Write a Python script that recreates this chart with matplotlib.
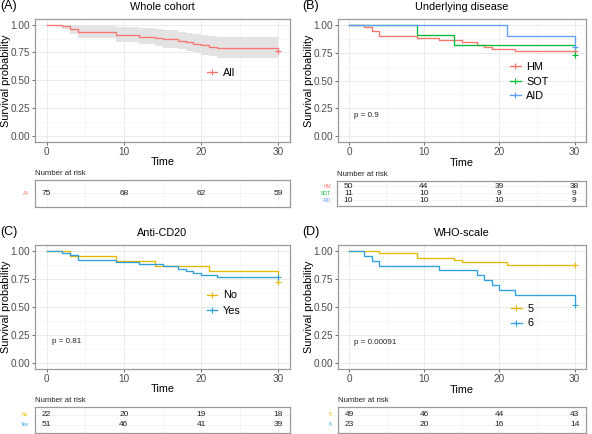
import matplotlib
matplotlib.use("Agg")
import matplotlib.pyplot as plt
from matplotlib.lines import Line2D

plt.rcParams['font.family'] = ['Liberation Sans', 'DejaVu Sans']

# ---------------- data ----------------
# Panel A: whole cohort
a_times = [0, 2, 3, 4, 9, 12, 14, 15, 17, 18, 19, 20, 21, 22, 30]
a_surv = [1.0, 0.987, 0.96, 0.933, 0.907, 0.893, 0.88, 0.867, 0.853, 0.84, 0.827, 0.813, 0.80, 0.787, 0.76]
a_lower = [1.0, 0.961, 0.917, 0.879, 0.843, 0.826, 0.809, 0.793, 0.777, 0.761, 0.745, 0.730, 0.714, 0.699, 0.699]
a_upper = [1.0, 1.0, 1.0, 0.992, 0.975, 0.966, 0.957, 0.947, 0.937, 0.927, 0.917, 0.906, 0.896, 0.885, 0.885]
a_risk = {"All": [75, 68, 62, 59]}

# Panel B: underlying disease
b_hm_t = [0, 2, 3, 4, 9, 12, 15, 17, 18, 19, 22, 30]
b_hm_s = [1.0, 0.98, 0.94, 0.90, 0.88, 0.86, 0.84, 0.82, 0.80, 0.78, 0.76, 0.76]
b_sot_t = [0, 9, 14, 30]
b_sot_s = [1.0, 0.909, 0.818, 0.727]
b_aid_t = [0, 21, 30]
b_aid_s = [1.0, 0.9, 0.8]
b_risk = {"HM": [50, 44, 39, 38], "SOT": [11, 10, 9, 9], "AID": [10, 10, 10, 9]}

# Panel C: anti-CD20
c_no_t = [0, 3, 9, 14, 21, 30]
c_no_s = [1.0, 0.955, 0.909, 0.864, 0.818, 0.727]
c_yes_t = [0, 2, 3, 4, 9, 12, 15, 17, 18, 19, 20, 22, 30]
c_yes_s = [1.0, 0.980, 0.961, 0.922, 0.902, 0.882, 0.863, 0.843, 0.824, 0.804, 0.784, 0.765, 0.765]
c_risk = {"No": [22, 20, 19, 18], "Yes": [51, 46, 41, 39]}

# Panel D: WHO-scale
d_5_t = [0, 4, 9, 14, 15, 21, 30]
d_5_s = [1.0, 0.98, 0.939, 0.918, 0.898, 0.878, 0.878]
d_6_t = [0, 2, 3, 4, 12, 17, 18, 19, 20, 22, 30]
d_6_s = [1.0, 0.957, 0.913, 0.870, 0.826, 0.783, 0.739, 0.696, 0.652, 0.609, 0.522]
d_risk = {"5": [49, 46, 44, 43], "6": [23, 20, 16, 14]}

risk_times = [0, 10, 20, 30]
x_ticks = [0, 10, 20, 30]
y_ticks = [0.0, 0.25, 0.5, 0.75, 1.0]
y_ticklabels = ["0.00", "0.25", "0.50", "0.75", "1.00"]

RED, GREEN, BLUE = "#F8766D", "#00BA38", "#619CFF"
YEL, SKY = "#E7B800", "#2E9FDF"

W, H = 592, 434
fig = plt.figure(figsize=(W / 100, H / 100), dpi=100)


def ax_px(x0, y0, x1, y1):
    return fig.add_axes([x0 / W, 1 - y1 / H, (x1 - x0) / W, (y1 - y0) / H])


BORDER = "#9A9A9A"
GRID = "#EBEBEB"
XLIM = (-1.5, 31.5)


def style_plot(ax, width_px):
    ax.set_xlim(*XLIM)
    ax.set_ylim(-0.05, 1.05)
    ax.set_xticks(x_ticks)
    ax.set_xticks([5, 15, 25], minor=True)
    ax.set_yticks(y_ticks)
    ax.set_yticklabels(y_ticklabels)
    ax.set_yticks([0.125, 0.375, 0.625, 0.875], minor=True)
    ax.grid(True, which='major', color=GRID, lw=0.7)
    ax.grid(True, which='minor', color="#F3F3F3", lw=0.5)
    ax.set_axisbelow(True)
    for s in ax.spines.values():
        s.set_color(BORDER)
        s.set_linewidth(0.9)
    ax.tick_params(which='major', length=2, width=0.6, color="#555555",
                   labelsize=7.2, labelcolor="#4D4D4D", pad=1.5)
    ax.tick_params(which='minor', length=0)
    ax.set_xlabel("Time", fontsize=7.8, labelpad=0.5)
    ax.set_ylabel("Survival probability", fontsize=7.8)
    ax.yaxis.set_label_coords(-23.5 / width_px, 0.5)


def curve(ax, t, s, color):
    ax.step(t, s, where='post', color=color, lw=0.95, zorder=3)
    ax.plot([t[-1]], [s[-1]], marker='+', color=color, ms=4, mew=0.8, zorder=4)


def legend(ax, items, x, y, spacing):
    handles = [Line2D([0], [0], color=c, lw=0.95, marker='+', ms=4, mew=0.8) for _, c in items]
    ax.legend(handles, [n for n, _ in items], loc='center left', bbox_to_anchor=(x, y),
              frameon=False, fontsize=7.8, handlelength=1.0, handletextpad=0.5,
              labelspacing=spacing, borderpad=0, borderaxespad=0, numpoints=1)


def risk_table(ax, risk, colors, title_y_px, x_px):
    n = len(risk)
    ax.set_xlim(*XLIM)
    e = 0.8 if n > 1 else 0.5
    ax.set_ylim(n - 1 + e, -e)
    ax.set_xticks(x_ticks)
    ax.set_xticks([5, 15, 25], minor=True)
    ax.set_yticks(range(n))
    ax.grid(True, which='both', axis='x', color="#F0F0F0", lw=0.5)
    ax.grid(True, which='major', axis='y', color="#F0F0F0", lw=0.5)
    ax.tick_params(which='both', length=0, labelbottom=False, labelleft=False)
    for s in ax.spines.values():
        s.set_color(BORDER)
        s.set_linewidth(0.9)
    for i, (name, vals) in enumerate(risk.items()):
        for t, v in zip(risk_times, vals):
            ax.text(t, i, str(v), ha='center', va='center', fontsize=6, color="#222222")
        ax.text(-0.025, i, name, transform=ax.get_yaxis_transform(), ha='right', va='center',
                fontsize=3.6, color=colors[i])
    fig.text(x_px / W, 1 - title_y_px / H, "Number at risk", ha='left', va='center',
             fontsize=5.6, color="#222222")


# ---------- Panel A ----------
axA = ax_px(35, 19, 290, 141.7)
style_plot(axA, 255)
axA.fill_between(a_times, a_lower, a_upper, step='post', color="#E3E3E3", lw=0, zorder=2)
curve(axA, a_times, a_surv, RED)
legend(axA, [("All", RED)], 0.673, 0.56, 0.45)
axA.set_title("Whole cohort", fontsize=7.8, pad=6.5)
fig.text(0 / W, 1 - 6 / H, "(A)", fontsize=9, ha='left', va='center')
tA = ax_px(35, 180.3, 290, 206.7)
risk_table(tA, a_risk, [RED], 174, 35)

# ---------- Panel B ----------
axB = ax_px(337.7, 19, 586, 142)
style_plot(axB, 248.3)
curve(axB, b_hm_t, b_hm_s, RED)
curve(axB, b_sot_t, b_sot_s, GREEN)
curve(axB, b_aid_t, b_aid_s, BLUE)
legend(axB, [("HM", RED), ("SOT", GREEN), ("AID", BLUE)], 0.694, 0.49, 0.42)
axB.text(0.65, 0.19, "p = 0.9", fontsize=5.8, ha='left', va='center', color="#222222")
axB.set_title("Underlying disease", fontsize=7.8, pad=6.5)
fig.text(302 / W, 1 - 6.5 / H, "(B)", fontsize=9, ha='left', va='center')
tB = ax_px(337.2, 181, 585.5, 205.7)
risk_table(tB, b_risk, [RED, GREEN, BLUE], 175, 337.2)

# ---------- Panel C ----------
axC = ax_px(35, 245.3, 290, 368.7)
style_plot(axC, 255)
curve(axC, c_no_t, c_no_s, YEL)
curve(axC, c_yes_t, c_yes_s, SKY)
legend(axC, [("No", YEL), ("Yes", SKY)], 0.673, 0.53, 0.52)
axC.text(0.65, 0.19, "p = 0.81", fontsize=5.8, ha='left', va='center', color="#222222")
axC.set_title("Anti-CD20", fontsize=7.8, pad=6.5)
fig.text(0 / W, 1 - 232.5 / H, "(C)", fontsize=9, ha='left', va='center')
tC = ax_px(35, 406.7, 290, 432.7)
risk_table(tC, c_risk, [YEL, SKY], 400.5, 35)

# ---------- Panel D ----------
axD = ax_px(337.7, 245.3, 586, 369)
style_plot(axD, 248.3)
curve(axD, d_5_t, d_5_s, YEL)
curve(axD, d_6_t, d_6_s, SKY)
legend(axD, [("5", YEL), ("6", SKY)], 0.698, 0.427, 0.42)
axD.text(0.65, 0.19, "p = 0.00091", fontsize=5.8, ha='left', va='center', color="#222222")
axD.set_title("WHO-scale", fontsize=7.8, pad=6.5)
fig.text(302 / W, 1 - 232.5 / H, "(D)", fontsize=9, ha='left', va='center')
tD = ax_px(337.7, 406.7, 586, 432.7)
risk_table(tD, d_risk, [YEL, SKY], 400.5, 337.7)

fig.savefig("out.png", dpi=100)
